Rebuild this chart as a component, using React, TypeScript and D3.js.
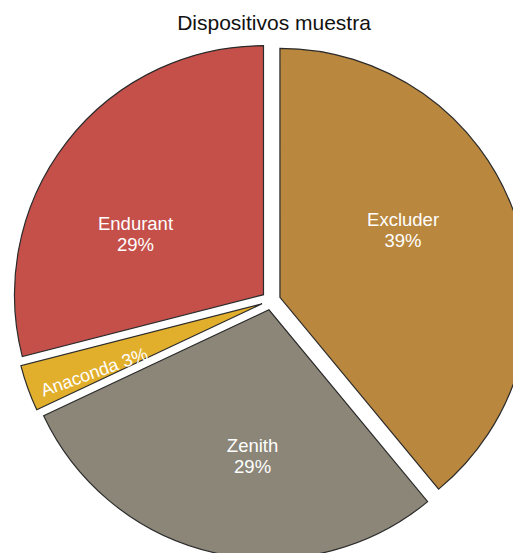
import React from 'react';
import * as d3 from 'd3';

const labels = ['Excluder', 'Zenith', 'Anaconda', 'Endurant'];
const values = [39, 29, 3, 29];
const colors = ['#b9873d', '#8b8678', '#e2af2c', '#c5504a'];
const title = 'Dispositivos muestra';

// label placement tweaks (degrees off the mid angle, distance from slice tip)
const labelNudge = [-9.0, -6.2, -2.4, -12.3];
const labelDist = [140.5, 146.8, 181.3, 141.8];

const width = 513;
const height = 553;
const cx = 271;
const cy = 300.5;
const radius = 249;
const pull = 9.5;
const labelFont = 18.5;
const smallFont = 18;

const App = () => {
    const pie = d3.pie<number>().sort(null).value(d => d);
    const arcs = pie(values);
    const arc = d3.arc<d3.PieArcDatum<number>>().innerRadius(0).outerRadius(radius);
    const total = d3.sum(values);

    return (
        <svg width={width} height={height} style={{ position: 'absolute', left: 0, top: 0 }}
            fontFamily="'Liberation Sans', Arial, Helvetica, sans-serif">
            <text x={274} y={30} textAnchor="middle" fontSize={21} fill="#111">{title}</text>
            {arcs.map((a, i) => {
                const mid = (a.startAngle + a.endAngle) / 2;
                const span = a.endAngle - a.startAngle;
                const ox = Math.sin(mid) * pull;
                const oy = -Math.cos(mid) * pull;
                const pct = Math.round((values[i] / total) * 100) + '%';
                const la = mid + (labelNudge[i] * Math.PI) / 180;
                const thin = span < 0.4;
                const lx = Math.sin(la) * labelDist[i];
                const ly = -Math.cos(la) * labelDist[i];
                const rot = ((mid * 180) / Math.PI) - 270;
                return (
                    <g key={labels[i]} transform={`translate(${cx + ox},${cy + oy})`}>
                        <path d={arc(a) || ''} fill={colors[i]} stroke="#2b2b2b" strokeWidth={1.2} />
                        {thin ? (
                            <text transform={`translate(${lx},${ly}) rotate(${rot})`} textAnchor="middle"
                                dominantBaseline="central" fontSize={smallFont} fill="#fff">
                                {labels[i]} {pct}
                            </text>
                        ) : (
                            <text x={lx} y={ly} textAnchor="middle" fontSize={labelFont} fill="#fff">
                                <tspan x={lx} y={ly - 3.5}>{labels[i]}</tspan>
                                <tspan x={lx} y={ly + 17.5}>{pct}</tspan>
                            </text>
                        )}
                    </g>
                );
            })}
        </svg>
    );
};

export default App;
